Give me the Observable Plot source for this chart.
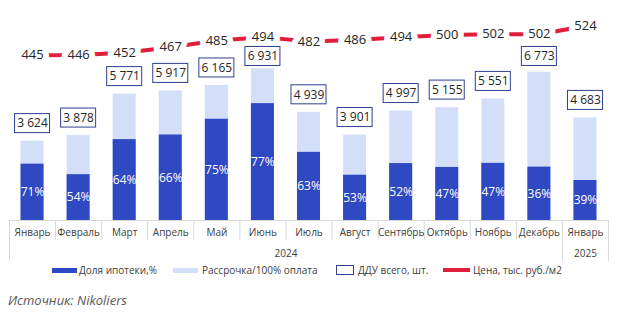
<!DOCTYPE html>
<html>
<head>
<meta charset="utf-8">
<script src="https://cdn.jsdelivr.net/npm/d3@7"></script>
<script src="https://cdn.jsdelivr.net/npm/@observablehq/plot@0.6"></script>
<style>
  html, body { margin: 0; padding: 0; background: #fff; }
  #wrap { position: relative; width: 630px; height: 335px; font-family: "Open Sans", sans-serif; }
  #chart { position: absolute; left: 0; top: 0; }
  .leg { position: absolute; top: 262px; height: 16px; display: flex; align-items: center; font-size: 10px; color: #404040; white-space: nowrap; }
  .sw { display: inline-block; margin-right: 2px; }
  #src { position: absolute; left: 8px; top: 291px; font-size: 13px; font-style: italic; color: #595959; }
</style>
</head>
<body>
<div id="wrap">
  <div id="chart"></div>
  <div class="leg" style="left:52px"><span class="sw" style="width:25px;height:5px;background:#2f49c2"></span>Доля ипотеки,%</div>
  <div class="leg" style="left:173px"><span class="sw" style="width:25px;height:5px;background:#d3dff9;margin-right:4px"></span>Рассрочка/100% оплата</div>
  <div class="leg" style="left:336px"><span class="sw" style="width:16px;height:8px;border:1px solid #2f3f8f;margin-right:4px"></span>ДДУ всего, шт.</div>
  <div class="leg" style="left:443px"><span class="sw" style="width:27px;height:4px;background:#e01e3c;margin-right:3px"></span>Цена, тыс. руб./м2</div>
  <div id="src">Источник: Nikoliers</div>
</div>
<script>
const months = ["Январь","Февраль","Март","Апрель","Май","Июнь","Июль","Август","Сентябрь","Октябрь","Ноябрь","Декабрь","Январь"];
const ddu = [3624, 3878, 5771, 5917, 6165, 6931, 4939, 3901, 4997, 5155, 5551, 6773, 4683];
const mortgageShare = [71, 54, 64, 66, 75, 77, 63, 53, 52, 47, 47, 36, 39];
const price = [445, 446, 452, 467, 485, 494, 482, 486, 494, 500, 502, 502, 524];
const years = ["2024", "2025"];
const yearFirst = [0, 12];
const yearLast = [11, 12];

const dark = "#2f49c2", light = "#d3dff9", border = "#2f3f8f", red = "#e01e3c", grid = "#d9d9d9";

const data = months.map((m, i) => ({i, m, total: ddu[i], share: mortgageShare[i], price: price[i]}));

// secondary axis for the price line
const priceY = d3.scaleLinear().domain([0, 590]).range([0, 10000]);
// box label centre (data units), kept below the price line
const boxC = d => Math.min(d.total + 800, 7490);
const fmt = v => d3.format(",")(v).replace(/,/g, " ");
const boundaries = d3.range(months.length + 1);
const yearEdges = new Set([...yearFirst, ...yearLast.map(v => v + 1)]);

const plot = Plot.plot({
  width: 630,
  height: 266,
  marginLeft: 9,
  marginRight: 22,
  marginTop: 1,
  marginBottom: 46,
  style: {fontFamily: "Open Sans, sans-serif", background: "transparent", overflow: "visible"},
  x: {domain: [-0.5, months.length - 0.5], label: null},
  y: {domain: [0, 10000], axis: null, label: null},
  marks: [
    Plot.ruleY([0], {stroke: grid}),
    Plot.ruleX(boundaries, {x: k => k - 0.5, y1: 0, y2: k => yearEdges.has(k) ? -1870 : -910, stroke: grid}),
    Plot.rect(data, {x1: d => d.i - 0.25, x2: d => d.i + 0.25, y1: 0, y2: d => d.total, fill: light}),
    Plot.rect(data, {x1: d => d.i - 0.25, x2: d => d.i + 0.25, y1: 0, y2: d => d.total * d.share / 100, fill: dark}),
    Plot.text(data, {x: "i", y: d => d.total * d.share / 200, text: d => d.share + "%", fill: "white", fontSize: 12}),
    Plot.line(data, {x: "i", y: d => priceY(d.price), stroke: red, strokeWidth: 4}),
    Plot.text(data, {x: "i", y: d => priceY(d.price), text: d => String(d.price), fontSize: 13, fill: "#262626",
      stroke: "white", strokeWidth: 12, strokeLinejoin: "round", paintOrder: "stroke"}),
    Plot.rect(data, {x1: d => d.i - 0.38, x2: d => d.i + 0.38, y1: d => boxC(d) - 434, y2: d => boxC(d) + 434,
      fill: "white", stroke: border, strokeWidth: 1}),
    Plot.text(data, {x: "i", y: boxC, text: d => fmt(d.total), fontSize: 12, fill: "#262626"}),
    Plot.text(years, {x: (d, j) => (yearFirst[j] + yearLast[j]) / 2, y: -1510, text: d => d, fontSize: 10, fill: "#404040"}),
    Plot.axisX({ticks: d3.range(months.length), tickFormat: i => months[i], tickSize: 0, tickPadding: 8, fontSize: 10, fill: "#404040", label: null})
  ]
});
document.getElementById("chart").appendChild(plot);
</script>
</body>
</html>
